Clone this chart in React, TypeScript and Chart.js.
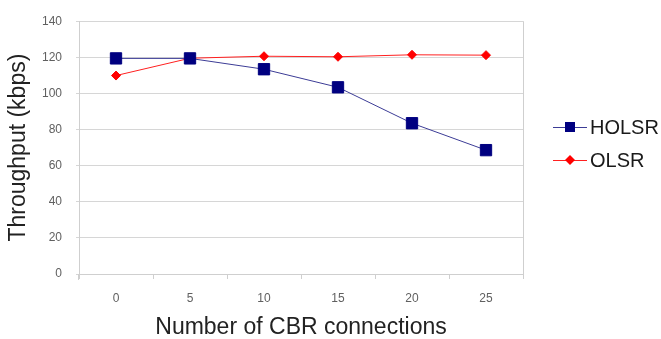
import React, { useEffect, useRef } from "react";
import { Chart, registerables } from "chart.js";

Chart.register(...registerables);

const categories = ["0", "5", "10", "15", "20", "25"];
const holsrValues = [119.4, 119.4, 113.4, 103.4, 83.5, 68.6];
const olsrValues = [109.9, 119.5, 120.6, 120.3, 121.4, 121.2];
const seriesNames = ["HOLSR", "OLSR"];

const FONT = "Arial, 'Liberation Sans', sans-serif";

const frameAndLegend = {
  id: "frameAndLegend",
  beforeDatasetsDraw(chart: any) {
    const { ctx, chartArea } = chart;
    ctx.save();
    ctx.strokeStyle = "#cfcfcf";
    ctx.lineWidth = 1;
    ctx.beginPath();
    ctx.moveTo(Math.round(chartArea.right) + 0.5, chartArea.top);
    ctx.lineTo(Math.round(chartArea.right) + 0.5, chartArea.bottom + 4);
    ctx.moveTo(Math.round(chartArea.left) - 0.5, chartArea.bottom);
    ctx.lineTo(Math.round(chartArea.left) - 0.5, chartArea.bottom + 6);
    ctx.stroke();
    ctx.restore();
  },
  afterDraw(chart: any) {
    const { ctx, chartArea } = chart;
    const x0 = chartArea.right + 30;
    const rows = [127, 160];
    ctx.save();
    chart.data.datasets.forEach((ds: any, i: number) => {
      const y = rows[i];
      ctx.strokeStyle = ds.borderColor;
      ctx.lineWidth = 1;
      ctx.beginPath();
      ctx.moveTo(x0, y + 0.5);
      ctx.lineTo(x0 + 34, y + 0.5);
      ctx.stroke();
      const cx = x0 + 17;
      ctx.fillStyle = ds.pointBackgroundColor;
      ctx.beginPath();
      if (ds.pointStyle === "rect") {
        ctx.rect(cx - 5, y - 5, 10, 10);
      } else {
        ctx.moveTo(cx - 5, y);
        ctx.lineTo(cx, y - 5);
        ctx.lineTo(cx + 5, y);
        ctx.lineTo(cx, y + 5);
        ctx.closePath();
      }
      ctx.fill();
      ctx.fillStyle = "#1a1a1a";
      ctx.font = `20px ${FONT}`;
      ctx.textBaseline = "middle";
      ctx.textAlign = "left";
      ctx.fillText(ds.label, x0 + 37, y + 1);
    });
    ctx.restore();
  },
};

export default function App() {
  const ref = useRef<HTMLCanvasElement | null>(null);
  useEffect(() => {
    document.body.style.margin = "0";
    const chart = new Chart(ref.current as HTMLCanvasElement, {
      type: "line",
      data: {
        labels: categories,
        datasets: [
          {
            label: seriesNames[0],
            data: holsrValues,
            borderColor: "#3c3c96",
            borderWidth: 1,
            backgroundColor: "#000080",
            pointStyle: "rect",
            pointRadius: 8,
            pointBackgroundColor: "#000080",
            pointBorderColor: "#000080",
            pointBorderWidth: 1,
            tension: 0,
          },
          {
            label: seriesNames[1],
            data: olsrValues,
            borderColor: "#ff2020",
            borderWidth: 1,
            backgroundColor: "#ff0000",
            pointStyle: "rectRot",
            pointRadius: 4.5,
            pointBackgroundColor: "#ff0000",
            pointBorderColor: "#ff0000",
            pointBorderWidth: 1,
            tension: 0,
          },
        ],
      },
      options: {
        animation: false,
        responsive: false,
        maintainAspectRatio: false,
        layout: { padding: { left: 0, right: 138, top: 14, bottom: 0 } },
        plugins: {
          legend: { display: false },
          tooltip: { enabled: false },
        },
        scales: {
          x: {
            type: "category",
            offset: true,
            afterFit: (s: any) => {
              s.height = 339 - 274;
            },
            grid: {
              offset: true,
              drawOnChartArea: false,
              drawTicks: true,
              tickLength: 5,
              color: "#cfcfcf",
            },
            border: { color: "#cfcfcf" },
            ticks: {
              color: "#606060",
              font: { family: FONT, size: 12 },
              padding: 12,
            },
            title: {
              display: true,
              text: "Number of CBR connections",
              color: "#222222",
              font: { family: FONT, size: 23, lineHeight: 1 },
              padding: { top: 0, bottom: 0 },
            },
          },
          y: {
            min: 0,
            max: 140,
            afterFit: (s: any) => {
              s.width = 79;
            },
            ticks: {
              stepSize: 20,
              color: "#606060",
              font: { family: FONT, size: 12 },
              padding: 14,
            },
            grid: {
              color: "#d6d6d6",
              tickLength: 3,
            },
            border: { color: "#cfcfcf" },
            title: {
              display: true,
              text: "Throughput (kbps)",
              color: "#222222",
              font: { family: FONT, size: 23 },
              padding: { top: 5, bottom: 0 },
            },
          },
        },
      },
      plugins: [frameAndLegend],
    });
    return () => chart.destroy();
  }, []);
  return (
    <div style={{ position: "absolute", left: 0, top: 0, width: 661, height: 339, background: "#fff" }}>
      <canvas ref={ref} width={661} height={339} style={{ display: "block" }} />
    </div>
  );
}
